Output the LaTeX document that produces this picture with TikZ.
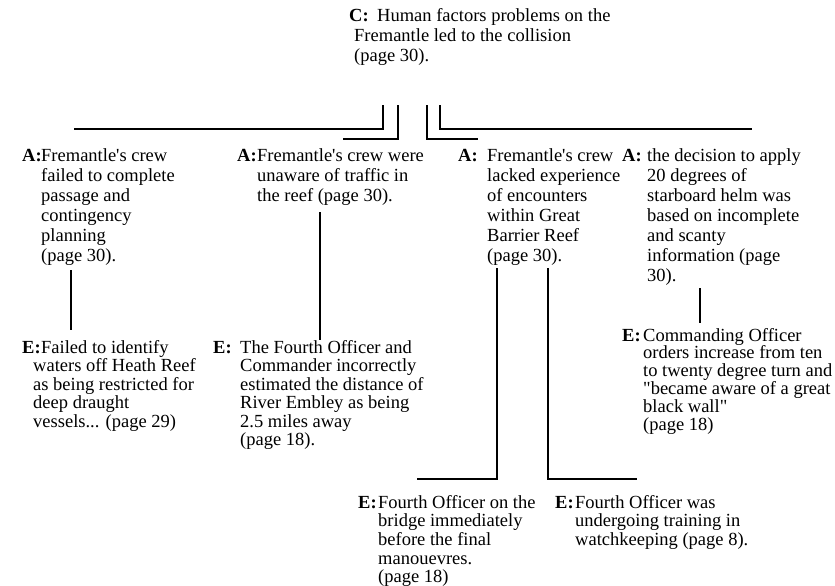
\documentclass[tikz,border=0pt]{standalone}
\usepackage{fontspec}
\setmainfont{Liberation Serif}[Ligatures=TeXOff]
\newcommand{\mlines}[1]{\vtop{\halign{##\hfil\cr#1\crcr}}}
\tikzset{
  lab/.style={anchor=base west, inner sep=0pt, font=\fontsize{18.5}{20}\selectfont\bfseries},
  body/.style={anchor=base west, inner sep=0pt, font=\fontsize{18.5}{#1}\selectfont},
  body/.default=20,
  conn/.style={draw=black, line width=1.9pt}
}
\begin{document}
\begin{tikzpicture}[x=1pt,y=-1pt]
\useasboundingbox (0,0) rectangle (835,586);

% C node
\node[lab] (Clab) at (349,22) {C:};
\node[body] (C) at (354,22) {\mlines{\hspace*{23pt}Human factors problems on the\cr Fremantle led to the collision\cr (page 30).}};

% A nodes
\node[lab] (A1lab) at (22,161) {A:};
\node[body] (A1) at (41,161) {\mlines{Fremantle's crew\cr failed to complete\cr passage and\cr contingency\cr planning\cr (page 30).}};

\node[lab] (A2lab) at (237,161) {A:};
\node[body] (A2) at (257,161) {\mlines{Fremantle's crew were\cr unaware of traffic in\cr the reef (page 30).}};

\node[lab] (A3lab) at (458,161) {A:};
\node[body] (A3) at (487,161) {\mlines{Fremantle's crew\cr lacked experience\cr of encounters\cr within Great\cr Barrier Reef\cr (page 30).}};

\node[lab] (A4lab) at (622,161) {A:};
\node[body] (A4) at (647,161) {\mlines{the decision to apply\cr 20 degrees of\cr starboard helm was\cr based on incomplete\cr and scanty\cr information (page\cr 30).}};

% E nodes
\node[lab] (E1lab) at (22,353) {E:};
\node[body=18.5] (E1) at (33,353) {\mlines{\hspace*{8pt}Failed to identify\cr waters off Heath Reef\cr as being restricted for\cr deep draught\cr vessels... (page 29)}};

\node[lab] (E2lab) at (213,353) {E:};
\node[body=18.5] (E2) at (240,353) {\mlines{The Fourth Officer and\cr Commander incorrectly\cr estimated the distance of\cr River Embley as being\cr 2.5 miles away\cr (page 18).}};

\node[lab] (E3lab) at (622,341) {E:};
\node[body=17.8] (E3) at (643,341) {\mlines{Commanding Officer\cr orders increase from ten\cr to twenty degree turn and\cr "became aware of a great\cr black wall"\cr (page 18)}};

\node[lab] (E4lab) at (358,508) {E:};
\node[body=18.7] (E4) at (378,508) {\mlines{Fourth Officer on the\cr bridge immediately\cr before the final\cr manouevres.\cr (page 18)}};

\node[lab] (E5lab) at (555,508) {E:};
\node[body=18.7] (E5) at (575,508) {\mlines{Fourth Officer was\cr undergoing training in\cr watchkeeping (page 8).}};

% connector coordinates
\coordinate (k1) at (383,105); \coordinate (k1e) at (74,129);
\coordinate (k2) at (398,105); \coordinate (k2e) at (343,139);
\coordinate (k3) at (427,105); \coordinate (k3e) at (478,139);
\coordinate (k4) at (440,105); \coordinate (k4e) at (752,129);
\coordinate (a1b) at (71,270); \coordinate (e1t) at (71,330);
\coordinate (a2b) at (320,212); \coordinate (e2t) at (320,340);
\coordinate (a3b1) at (497,268); \coordinate (e4t) at (417,479);
\coordinate (a3b2) at (548,268); \coordinate (e5t) at (637,479);
\coordinate (a4b) at (700,288); \coordinate (e3t) at (700,323);

\draw[conn] (k1) |- (k1e);
\draw[conn] (k2) |- (k2e);
\draw[conn] (k3) |- (k3e);
\draw[conn] (k4) |- (k4e);
\draw[conn] (a1b) -- (e1t);
\draw[conn] (a2b) -- (e2t);
\draw[conn] (a3b1) |- (e4t);
\draw[conn] (a3b2) |- (e5t);
\draw[conn] (a4b) -- (e3t);
\end{tikzpicture}
\end{document}
